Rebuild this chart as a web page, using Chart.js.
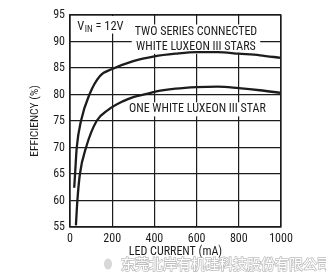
<!DOCTYPE html>
<html>
<head>
<meta charset="utf-8">
<script src="https://cdn.jsdelivr.net/npm/chart.js@4"></script>
<style>
html,body{margin:0;padding:0;background:#fff;}
#wrap{width:326px;height:276px;position:relative;}
</style>
</head>
<body>
<div id="wrap"><canvas id="c" width="326" height="276"></canvas></div>
<script>
// ---- data ----
const xTicks = [0, 200, 400, 600, 800, 1000];
const yTicks = [55, 60, 65, 70, 75, 80, 85, 90, 95];

const twoStarsCurrent = [20, 24, 32, 52, 92, 142, 200, 300, 400, 500, 600, 700, 800, 900, 1000];
const twoStarsEff     = [62.4, 65, 70, 75, 80, 83.5, 84.8, 86.3, 87.2, 87.7, 88.0, 88.0, 87.7, 87.4, 86.9];

const oneStarCurrent  = [28, 35, 47, 76, 126, 181, 250, 300, 363, 400, 500, 600, 700, 800, 900, 1000];
const oneStarEff      = [55.3, 60, 65, 70, 75, 77.1, 78.7, 79.5, 80.1, 80.5, 81.1, 81.4, 81.5, 81.2, 80.8, 80.3];

const seriesLabels = ["TWO SERIES CONNECTED\nWHITE LUXEON III STARS", "ONE WHITE LUXEON III STAR"];
const xTitle = "LED CURRENT (mA)";
const yTitle = "EFFICIENCY (%)";
const watermark = "东莞北岸有机硅科技股份有限公司";

const FAM = "Roboto, 'Open Sans', sans-serif";
const COND = "400 condensed";
const INK = '#1c1c1c';
function f(size){ return COND + " " + size + "px " + FAM; }

function pts(xs, ys){ return xs.map((x,i)=>({x:x, y:ys[i]})); }

const annot = {
  id: 'annot',
  beforeDatasetsDraw(chart){
    const ctx = chart.ctx;
    const xs = chart.scales.x, ys = chart.scales.y;
    ctx.save();
    // V_IN label
    const vx = xs.getPixelForValue(34), vy = ys.getPixelForValue(92.25);
    ctx.textBaseline = 'alphabetic';
    ctx.textAlign = 'left';
    ctx.font = f(12.5);
    const w1 = ctx.measureText('V').width;
    ctx.font = f(9);
    const w2 = ctx.measureText('IN').width;
    ctx.font = f(12.5);
    const w3 = ctx.measureText(' = 12V').width;
    ctx.fillStyle = '#fff';
    ctx.fillRect(vx-3, chart.chartArea.top+1, w1+w2+w3+6, vy - chart.chartArea.top + 3);
    ctx.fillStyle = INK;
    ctx.fillText('V', vx, vy);
    ctx.font = f(9);
    ctx.fillText('IN', vx+w1+0.5, vy+2.5);
    ctx.font = f(12.5);
    ctx.fillText(' = 12V', vx+w1+w2+0.5, vy);

    // series labels
    ctx.font = f(12);
    ctx.textAlign = 'center';
    ctx.textBaseline = 'middle';
    const lines = seriesLabels[0].split('\n');
    const cx = xs.getPixelForValue(597);
    const yA = ys.getPixelForValue(91.7), yB = ys.getPixelForValue(89.0);
    let mw = 0;
    lines.forEach(l=>{ mw = Math.max(mw, ctx.measureText(l).width); });
    ctx.fillStyle = '#fff';
    ctx.fillRect(cx - mw/2 - 3, yA - 8, mw + 6, (yB - yA) + 15);
    ctx.fillStyle = INK;
    ctx.fillText(lines[0], cx, yA);
    ctx.fillText(lines[1], cx, yB);

    const cx2 = xs.getPixelForValue(604);
    const yC = ys.getPixelForValue(77.2);
    const w4 = ctx.measureText(seriesLabels[1]).width;
    ctx.fillStyle = '#fff';
    ctx.fillRect(cx2 - w4/2 - 3, yC - 7, w4 + 6, 14);
    ctx.fillStyle = INK;
    ctx.fillText(seriesLabels[1], cx2, yC);
    ctx.restore();
  },
  afterDraw(chart){
    const ctx = chart.ctx;
    ctx.save();
    ctx.font = "14px 'Noto Sans CJK SC',sans-serif";
    ctx.textAlign = 'left';
    ctx.textBaseline = 'middle';
    ctx.lineWidth = 1.6;
    ctx.strokeStyle = 'rgba(175,175,175,0.8)';
    ctx.strokeText(watermark, 121, 264);
    ctx.fillStyle = '#fff';
    ctx.fillText(watermark, 121, 264);
    // small light-grey mark before the watermark
    ctx.fillStyle = 'rgba(200,200,200,0.7)';
    ctx.beginPath();
    ctx.ellipse(108, 264, 4, 5.5, 0, 0, Math.PI*2);
    ctx.fill();
    ctx.restore();
  }
};

const tickFont = { family: FAM, size: 12, weight: COND };

new Chart(document.getElementById('c'), {
  type: 'line',
  data: {
    datasets: [
      { label: 'two', data: pts(twoStarsCurrent, twoStarsEff), borderColor: INK, borderWidth: 2.3, pointRadius: 0, cubicInterpolationMode: 'monotone', fill: false },
      { label: 'one', data: pts(oneStarCurrent, oneStarEff), borderColor: INK, borderWidth: 2.3, pointRadius: 0, cubicInterpolationMode: 'monotone', fill: false }
    ]
  },
  options: {
    responsive: false,
    animation: false,
    devicePixelRatio: 1,
    layout: { padding: { top: 15, right: 45, left: 0, bottom: 0 } },
    plugins: { legend: { display: false }, tooltip: { enabled: false } },
    scales: {
      x: {
        type: 'linear', min: 0, max: 1000,
        afterBuildTicks(s){ s.ticks = xTicks.map(v=>({value:v})); },
        afterFit(s){ s.height = 49; },
        grid: { color: INK, lineWidth: 1.2, drawTicks: false },
        border: { color: INK, width: 1.2 },
        ticks: { color: INK, font: tickFont, padding: 5, maxRotation: 0, callback: v => String(v) },
        title: { display: true, text: xTitle, color: INK, font: { family: FAM, size: 12, weight: COND }, padding: { top: 0, bottom: 17 } }
      },
      y: {
        min: 55, max: 95,
        afterBuildTicks(s){ s.ticks = yTicks.map(v=>({value:v})); },
        afterFit(s){ s.width = 70; },
        grid: { color: INK, lineWidth: 1.2, drawTicks: false },
        border: { color: INK, width: 1.2 },
        ticks: { color: INK, font: tickFont, padding: 5, callback: v => String(v) },
        title: { display: true, text: yTitle, color: INK, font: { family: FAM, size: 11.5, weight: COND }, padding: { top: 28, bottom: 0 } }
      }
    }
  },
  plugins: [annot, {
    id: 'frame',
    afterDatasetsDraw(chart){
      const {ctx, chartArea:a} = chart;
      ctx.save(); ctx.strokeStyle = INK; ctx.lineWidth = 1.2;
      ctx.strokeRect(a.left, a.top, a.right - a.left, a.bottom - a.top);
      ctx.restore();
    }
  }]
});
</script>
</body>
</html>
